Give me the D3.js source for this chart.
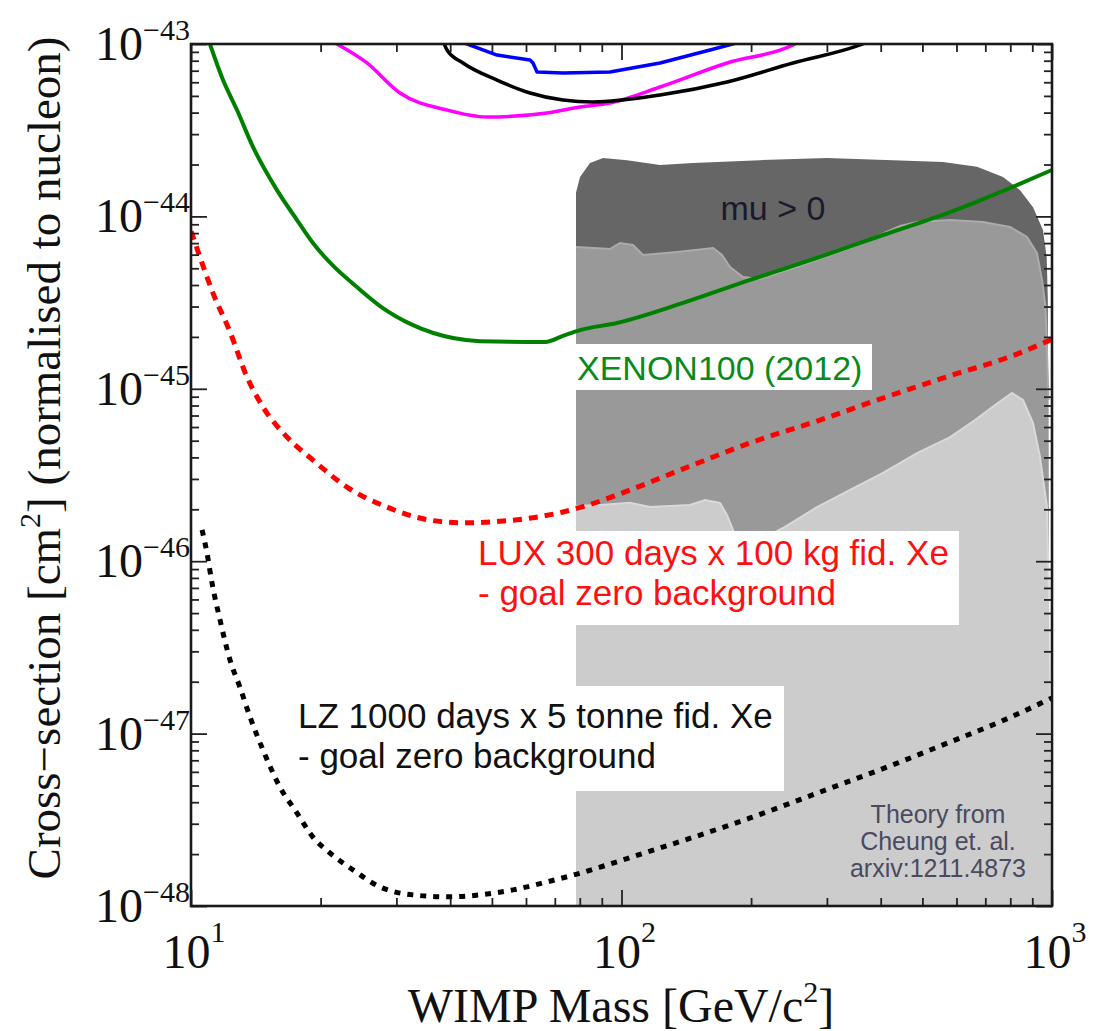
<!DOCTYPE html>
<html><head><meta charset="utf-8">
<script src="https://cdn.jsdelivr.net/npm/d3@7"></script>
<style>body{margin:0;background:#fff}svg{display:block}</style>
</head><body><svg id="c" width="1102" height="1031"></svg>
<script>
// ---------- data (mass in GeV/c^2, cross-section in cm^2) ----------
const xTickValues = [10, 100, 1000];
const xTickExps = ["1", "2", "3"];
const yTickValues = [1e-43, 1e-44, 1e-45, 1e-46, 1e-47, 1e-48];
const yTickExps = ["\u221243", "\u221244", "\u221245", "\u221246", "\u221247", "\u221248"];

const xenonMass  = [10.95, 11.87, 12.79, 13.93, 15.84, 17.63, 19.20, 21.37, 23.78, 27.48, 32.79, 40.61, 46.92, 66.5, 73.13, 80.10, 97.6, 139.0, 198.9, 284.6, 405, 580, 829, 1000];
const xenonSigma = [1.08e-43, 6.18e-44, 4.14e-44, 2.53e-44, 1.42e-44, 9.53e-45, 7.01e-45, 5.18e-45, 4.07e-45, 3.02e-45, 2.34e-45, 1.97e-45, 1.89e-45, 1.87e-45, 2.03e-45, 2.19e-45, 2.41e-45, 3.15e-45, 4.28e-45, 5.74e-45, 7.80e-45, 1.06e-44, 1.52e-44, 1.86e-44];

const luxMass  = [10.0, 10.11, 10.49, 11.25, 12.32, 13.49, 14.70, 16.71, 19.20, 23.03, 28.53, 35.92, 42.84, 55.98, 73.13, 89.15, 97.6, 139.0, 198.9, 284.6, 405, 580, 829, 1000];
const luxSigma = [8.2e-45, 7.60e-45, 5.81e-45, 3.59e-45, 2.14e-45, 1.17e-45, 7.84e-46, 5.25e-46, 3.86e-46, 2.69e-46, 2.06e-46, 1.73e-46, 1.67e-46, 1.73e-46, 1.93e-46, 2.23e-46, 2.42e-46, 3.43e-46, 4.85e-46, 6.50e-46, 8.84e-46, 1.19e-45, 1.59e-45, 1.94e-45];

const lzMass  = [10.61, 10.89, 11.19, 11.68, 12.32, 12.99, 13.71, 14.70, 16.09, 17.63, 19.20, 21.03, 23.78, 27.48, 32.79, 39.33, 46.92, 55.98, 67.14, 80.10, 89.15, 116.5, 152.2, 198.9, 289.2, 443.7, 580, 757, 1000];
const lzSigma = [1.52e-46, 1.12e-46, 7.47e-47, 4.56e-47, 2.67e-47, 1.86e-47, 1.25e-47, 8.03e-48, 4.90e-48, 3.46e-48, 2.51e-48, 2.03e-48, 1.62e-48, 1.29e-48, 1.16e-48, 1.13e-48, 1.16e-48, 1.24e-48, 1.38e-48, 1.55e-48, 1.68e-48, 2.08e-48, 2.58e-48, 3.24e-48, 4.58e-48, 6.84e-48, 8.94e-48, 1.17e-47, 1.61e-47];

const magentaMass  = [20.6, 25.63, 30.58, 39.33, 48.71, 67.14, 80.10, 94.0, 122.9, 175.9, 250.2, 262.0];
const magentaSigma = [1.08e-43, 7.76e-44, 5.20e-44, 4.14e-44, 3.77e-44, 3.98e-44, 4.31e-44, 4.55e-44, 5.63e-44, 7.76e-44, 9.87e-44, 1.05e-43];

const blackMass  = [38.28, 39.33, 42.84, 51.38, 61.32, 73.13, 85.88, 122.9, 175.9, 250.2, 358.1, 377.7];
const blackSigma = [1.08e-43, 9.23e-44, 7.76e-44, 6.18e-44, 5.20e-44, 4.73e-44, 4.61e-44, 5.06e-44, 6.02e-44, 7.76e-44, 9.87e-44, 1.04e-43];

const blueMass  = [41.5, 51.38, 61.32, 62.30, 63.65, 73.13, 94.0, 122.9, 160.6, 195.0];
const blueSigma = [1.05e-43, 8.63e-44, 8.08e-44, 7.76e-44, 6.88e-44, 6.79e-44, 6.88e-44, 7.76e-44, 9.23e-44, 1.05e-43];

// theory regions (Cheung et al.), outlines
const darkMass  = [78.4, 78.4, 80.1, 84.5, 90.6, 103.0, 122.9, 146.6, 209.7, 300.2, 427.2, 558.3, 669.6, 769.5, 843, 903.5, 952.9, 972, 978, 978];
const darkSigma = [1e-48, 1.37e-44, 1.69e-44, 2.04e-44, 2.18e-44, 2.12e-44, 1.99e-44, 2.04e-44, 2.12e-44, 2.18e-44, 2.12e-44, 2.07e-44, 1.94e-44, 1.69e-44, 1.42e-44, 1.13e-44, 8.34e-45, 5.81e-45, 3.27e-45, 1e-48];

const mediumMass  = [78.4, 78.4, 94.0, 99.2, 106.3, 112.2, 134.6, 163.2, 171.2, 178.7, 191.5, 209.7, 259.8, 339.5, 443.7, 485.9, 580, 691.5, 798.9, 874.8, 923, 948, 966, 982, 988];
const mediumSigma = [1e-48, 6.65e-45, 6.47e-45, 7.01e-45, 6.82e-45, 5.97e-45, 6.22e-45, 6.56e-45, 5.97e-45, 5.09e-45, 4.45e-45, 4.33e-45, 5.16e-45, 6.56e-45, 8.80e-45, 9.28e-45, 9.53e-45, 9.28e-45, 8.68e-45, 7.60e-45, 6.13e-45, 4.28e-45, 2.98e-45, 8.61e-46, 1e-48];

const lightMass  = [78.4, 78.4, 89.15, 104.6, 116.5, 144.2, 156.3, 169.3, 175.9, 183.5, 209.7, 239.8, 284.6, 339.5, 405, 485.9, 580, 662.6, 737.3, 807.5, 856.3, 903.5, 937.8, 973.6, 984, 995];
const lightSigma = [1e-48, 2.09e-46, 2.12e-46, 2.18e-46, 2.06e-46, 2.12e-46, 2.26e-46, 2.18e-46, 1.85e-46, 1.42e-46, 1.33e-46, 1.58e-46, 2.06e-46, 2.59e-46, 3.25e-46, 4.24e-46, 5.25e-46, 6.59e-46, 8.05e-46, 9.45e-46, 8.61e-46, 6.33e-46, 4.02e-46, 2.06e-46, 5.96e-47, 1e-48];

const xenonLabel = "XENON100 (2012)";
const luxLabel = ["LUX 300 days x 100 kg fid. Xe", "- goal zero background"];
const lzLabel = ["LZ 1000 days x 5 tonne fid. Xe", "- goal zero background"];
const muLabel = "mu > 0";
const theoryLabel = ["Theory from", "Cheung et. al.", "arxiv:1211.4873"];

// ---------- drawing ----------
const L = 191, R = 1052, T = 44, B = 906;
const svg = d3.select("#c");
const x = d3.scaleLog().domain([10, 1000]).range([L, R]);
const y = d3.scaleLog().domain([1e-48, 1e-43]).range([B, T]);
const zip = (ms, ss) => ms.map((m, i) => [m, ss[i]]);

svg.append("defs").append("clipPath").attr("id", "clip")
  .append("rect").attr("x", L).attr("y", T).attr("width", R - L).attr("height", B - T);
const plot = svg.append("g").attr("clip-path", "url(#clip)");

const poly = d3.line().x(d => x(d[0])).y(d => y(d[1]));
const smooth = d3.line().x(d => x(d[0])).y(d => y(d[1])).curve(d3.curveMonotoneX);

// gray regions
const regions = [
  {m: darkMass, s: darkSigma, fill: "#666666", edge: null},
  {m: mediumMass, s: mediumSigma, fill: "#999999", edge: "#ababab"},
  {m: lightMass, s: lightSigma, fill: "#cccccc", edge: "#d9d9d9"}
];
regions.forEach(r => {
  const pts = zip(r.m, r.s);
  plot.append("path").attr("d", poly(pts) + "Z").attr("fill", r.fill);
  if (r.edge) plot.append("path").attr("d", poly(pts.slice(1, -1)))
    .attr("fill", "none").attr("stroke", r.edge).attr("stroke-width", 2);
});

// curves
const curves = [
  {m: magentaMass, s: magentaSigma, c: "#ff00ff", w: 3.5, gen: smooth},
  {m: blackMass, s: blackSigma, c: "#000000", w: 3.5, gen: smooth},
  {m: blueMass, s: blueSigma, c: "#0000ff", w: 3.5, gen: poly},
  {m: xenonMass, s: xenonSigma, c: "#008000", w: 4, gen: smooth},
  {m: luxMass, s: luxSigma, c: "#ff0000", w: 5, gen: smooth, dash: "9,7"},
  {m: lzMass, s: lzSigma, c: "#000000", w: 5, gen: smooth, dash: "6,7"}
];
curves.forEach(c => {
  plot.append("path").attr("d", c.gen(zip(c.m, c.s)))
    .attr("fill", "none").attr("stroke", c.c).attr("stroke-width", c.w)
    .attr("stroke-dasharray", c.dash || null).attr("stroke-linejoin", "round");
});

// label boxes
const sans = "'Liberation Sans', Arial, Helvetica, sans-serif";
const serif = "'Liberation Serif', 'Times New Roman', serif";
function box(x0, y0, x1, y1) {
  svg.append("rect").attr("x", x0).attr("y", y0).attr("width", x1 - x0).attr("height", y1 - y0).attr("fill", "#fff");
}
box(572, 344, 872, 390);
box(470, 531, 959, 625);
box(290, 686, 784, 791);

svg.append("text").attr("x", 577).attr("y", 380).attr("font-family", sans).attr("font-size", 34)
  .attr("fill", "#0a8a1a").text(xenonLabel);
luxLabel.forEach((t, i) => svg.append("text").attr("x", 478).attr("y", 565 + i * 40)
  .attr("font-family", sans).attr("font-size", 35).attr("fill", "#ff1010").text(t));
lzLabel.forEach((t, i) => svg.append("text").attr("x", 298).attr("y", 728 + i * 40)
  .attr("font-family", sans).attr("font-size", 35).attr("fill", "#111").text(t));
svg.append("text").attr("x", 773).attr("y", 220).attr("text-anchor", "middle")
  .attr("font-family", sans).attr("font-size", 34).attr("fill", "#1a1a2e").text(muLabel);
theoryLabel.forEach((t, i) => svg.append("text").attr("x", 938).attr("y", 823 + i * 27)
  .attr("text-anchor", "middle").attr("font-family", sans).attr("font-size", 25)
  .attr("fill", "#4a4a60").text(t));

// axes with inward ticks
const xMinor = [], yMinor = [];
[10, 100].forEach(d => { for (let k = 2; k <= 9; k++) xMinor.push(d * k); });
yTickValues.slice(1).forEach(d => { for (let k = 2; k <= 9; k++) yMinor.push(d * k); });
function axisGroup(gen, tx, ty) {
  const g = svg.append("g").attr("transform", `translate(${tx},${ty})`).call(gen);
  g.select(".domain").remove();
  g.selectAll(".tick line").attr("stroke", "#222").attr("stroke-width", 1.8);
  return g;
}
const major = 16, minor = 8;
axisGroup(d3.axisBottom(x).tickValues(xTickValues).tickSize(-major).tickFormat(""), 0, B);
axisGroup(d3.axisBottom(x).tickValues(xMinor).tickSize(-minor).tickFormat(""), 0, B);
axisGroup(d3.axisTop(x).tickValues(xTickValues).tickSize(-major).tickFormat(""), 0, T);
axisGroup(d3.axisTop(x).tickValues(xMinor).tickSize(-minor).tickFormat(""), 0, T);
axisGroup(d3.axisLeft(y).tickValues(yTickValues).tickSize(-major).tickFormat(""), L, 0);
axisGroup(d3.axisLeft(y).tickValues(yMinor).tickSize(-minor).tickFormat(""), L, 0);
axisGroup(d3.axisRight(y).tickValues(yTickValues).tickSize(-major).tickFormat(""), R, 0);
axisGroup(d3.axisRight(y).tickValues(yMinor).tickSize(-minor).tickFormat(""), R, 0);

svg.append("rect").attr("x", L).attr("y", T).attr("width", R - L).attr("height", B - T)
  .attr("fill", "none").attr("stroke", "#1a1a1a").attr("stroke-width", 2.6);

// tick labels
xTickValues.forEach((v, i) => {
  const t = svg.append("text").attr("x", x(v) + 3).attr("y", 968).attr("text-anchor", "middle")
    .attr("font-family", serif).attr("font-size", 48).attr("fill", "#111");
  t.append("tspan").text("10");
  t.append("tspan").attr("dy", -26).attr("font-size", 30).text(xTickExps[i]);
});
yTickValues.forEach((v, i) => {
  const t = svg.append("text").attr("x", 190).attr("y", y(v) + 16).attr("text-anchor", "end")
    .attr("font-family", serif).attr("font-size", 48).attr("fill", "#111");
  t.append("tspan").text("10");
  t.append("tspan").attr("dy", -20).attr("font-size", 30).text(yTickExps[i]);
});

// axis titles
const xt = svg.append("text").attr("x", 621).attr("y", 1022).attr("text-anchor", "middle")
  .attr("font-family", serif).attr("font-size", 48).attr("fill", "#111");
xt.append("tspan").text("WIMP Mass [GeV/c");
xt.append("tspan").attr("dy", -20).attr("font-size", 30).text("2");
xt.append("tspan").attr("dy", 20).text("]");

const yt = svg.append("text").attr("transform", "translate(60,458) rotate(-90)").attr("text-anchor", "middle")
  .attr("font-family", serif).attr("font-size", 47).attr("fill", "#111");
yt.append("tspan").text("Cross\u2212section [cm");
yt.append("tspan").attr("dy", -20).attr("font-size", 30).text("2");
yt.append("tspan").attr("dy", 20).text("] (normalised to nucleon)");
</script>
</body></html>
